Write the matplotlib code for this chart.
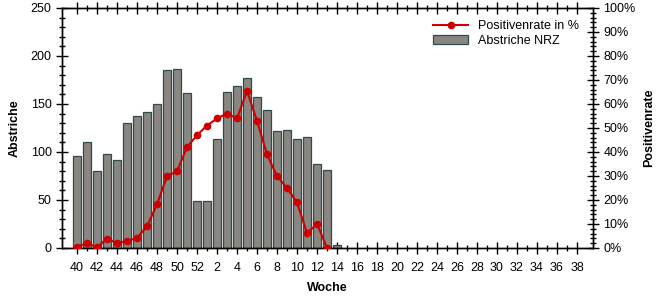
import matplotlib
matplotlib.use("Agg")
import matplotlib.pyplot as plt
from matplotlib.ticker import MultipleLocator, FixedLocator, PercentFormatter

plt.rcParams['font.family'] = ['Liberation Sans', 'DejaVu Sans']

weeks = list(range(40, 53)) + list(range(1, 39))
abstriche = [96, 110, 80, 98, 92, 130, 137, 142, 150, 185, 186, 161, 49,
             49, 114, 162, 169, 177, 157, 144, 122, 123, 114, 116, 87, 81, 3]
positivenrate = [0.5, 2, 0.3, 3.9, 2, 2.9, 4.2, 9, 18.2, 29.9, 32, 42, 47,
                 51, 54, 56, 54, 65.4, 53, 39, 29.9, 25, 19, 6.2, 10, 0]

fig = plt.figure(figsize=(6.66, 3.0), dpi=100)
ax = fig.add_axes([62/666, 52/300, (593-62)/666, (248-8)/300])
ax2 = ax.twinx()

idx = list(range(len(weeks)))
ax.bar(idx[:len(abstriche)], abstriche, width=0.72, color='#8a8782',
       edgecolor='#2f4a4a', linewidth=0.9, label='Abstriche NRZ', zorder=2)
ax2.plot(idx[:len(positivenrate)], positivenrate, color='#cc0000', lw=1.5,
         marker='o', markersize=4.5, label='Positivenrate in %', zorder=3)

ax.set_xlim(-1.5, 51.6)
ax.set_ylim(0, 250)
ax2.set_ylim(0, 100)

ax.xaxis.set_major_locator(FixedLocator(idx[::2]))
ax.set_xticklabels([str(weeks[i]) for i in idx[::2]])
ax.xaxis.set_minor_locator(FixedLocator(idx[1::2]))
ax.yaxis.set_major_locator(MultipleLocator(50))
ax.yaxis.set_minor_locator(MultipleLocator(10))
ax2.yaxis.set_major_locator(MultipleLocator(10))
ax2.yaxis.set_minor_locator(MultipleLocator(2))
ax2.yaxis.set_major_formatter(PercentFormatter(decimals=0))

ax.tick_params(axis='x', which='major', direction='inout', length=8, width=1,
               labelsize=9, top=True, pad=6)
ax.tick_params(axis='x', which='minor', direction='inout', length=5, width=1, top=True)
ax.tick_params(axis='y', which='major', direction='inout', length=8, width=1, labelsize=9)
ax.tick_params(axis='y', which='minor', direction='inout', length=5, width=1)
ax2.tick_params(axis='y', which='major', direction='inout', length=8, width=1, labelsize=9)
ax2.tick_params(axis='y', which='minor', direction='inout', length=5, width=1)

for a in (ax, ax2):
    for s in a.spines.values():
        s.set_linewidth(1)

ax.set_ylabel('Abstriche', fontsize=9, fontweight='bold')
ax.yaxis.set_label_coords(-0.077, 0.5)
ax2.set_ylabel('Positivenrate', fontsize=9, fontweight='bold', rotation=90)
ax2.yaxis.set_label_coords(1.094, 0.5)
ax.set_xlabel('Woche', fontsize=9, fontweight='bold', labelpad=6)

h1, l1 = ax2.get_legend_handles_labels()
h2, l2 = ax.get_legend_handles_labels()
ax2.legend(h1 + h2, l1 + l2, loc='upper left', bbox_to_anchor=(0.69, 0.97),
           frameon=False, fontsize=9, handlelength=2.8, labelspacing=0.2,
           borderaxespad=0)

fig.savefig('out.png', dpi=100)
